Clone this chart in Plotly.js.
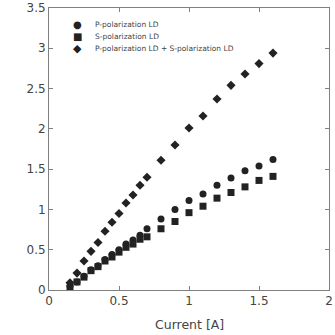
<!DOCTYPE html>
<html><head><meta charset="utf-8">
<script src="https://cdn.plot.ly/plotly-3.0.1.min.js"></script>
<style>html,body{margin:0;padding:0;background:#fff;}</style>
</head><body><div id="chart" style="width:335px;height:335px;"></div>
<script>
const current = [0.15,0.2,0.25,0.3,0.35,0.4,0.45,0.5,0.55,0.6,0.65,0.7,0.8,0.9,1.0,1.1,1.2,1.3,1.4,1.5,1.6];
const pPol = [0.05,0.10,0.17,0.25,0.30,0.38,0.44,0.50,0.57,0.62,0.68,0.76,0.88,1.00,1.11,1.19,1.30,1.39,1.48,1.54,1.62];
const sPol = [0.02,0.10,0.16,0.24,0.29,0.36,0.41,0.47,0.53,0.57,0.63,0.66,0.76,0.85,0.96,1.04,1.14,1.21,1.28,1.36,1.41];
const sumPol = [0.09,0.21,0.36,0.48,0.59,0.73,0.84,0.95,1.08,1.18,1.30,1.40,1.61,1.80,2.01,2.16,2.37,2.54,2.68,2.81,2.94];
const names = ['P-polarization LD','S-polarization LD','P-polarization LD + S-polarization LD'];
const symbols = ['circle','square','diamond'];
const legendGlyphs = ['●','■','◆'];
const xTitle = 'Current [A]';

const sizes = [7, 7, 7];
const series = [pPol, sPol, sumPol];
const data = series.map((y, i) => ({
  x: current, y: y, name: names[i], type: 'scatter', mode: 'markers',
  marker: {symbol: symbols[i], size: sizes[i], color: '#222'}
}));

const ax = {
  showgrid: false, zeroline: false, showline: true, mirror: 'ticks',
  linecolor: '#808080', linewidth: 1, ticks: 'inside', ticklen: 4, tickcolor: '#808080',
  tickfont: {family: 'DejaVu Sans', size: 12, color: '#444'}
};
const legY = [0.94, 0.898, 0.858];
const glyphSizes = [10, 10, 11];
const annotations = [];
names.forEach((n, i) => {
  annotations.push({xref: 'paper', yref: 'paper', x: 0.1, y: legY[i], xanchor: 'center', yanchor: 'middle',
    text: legendGlyphs[i], showarrow: false, font: {family: 'DejaVu Sans', size: glyphSizes[i], color: '#222'}});
  annotations.push({xref: 'paper', yref: 'paper', x: 0.157, y: legY[i], xanchor: 'left', yanchor: 'middle',
    text: n, showarrow: false, font: {family: 'DejaVu Sans', size: 7.5, color: '#444'}});
});
annotations.push({xref: 'paper', yref: 'paper', x: 0.5, y: -0.122, xanchor: 'center', yanchor: 'middle',
  text: xTitle, showarrow: false, font: {family: 'DejaVu Sans', size: 12.5, color: '#444'}});
const layout = {
  width: 335, height: 335,
  margin: {l: 49, r: 6, t: 8, b: 45},
  paper_bgcolor: '#fff', plot_bgcolor: '#fff',
  showlegend: false,
  annotations: annotations,
  xaxis: Object.assign({}, ax, {range: [0, 2], dtick: 0.5}),
  yaxis: Object.assign({}, ax, {range: [0, 3.5], dtick: 0.5})
};
Plotly.newPlot('chart', data, layout, {staticPlot: true});
</script></body></html>
